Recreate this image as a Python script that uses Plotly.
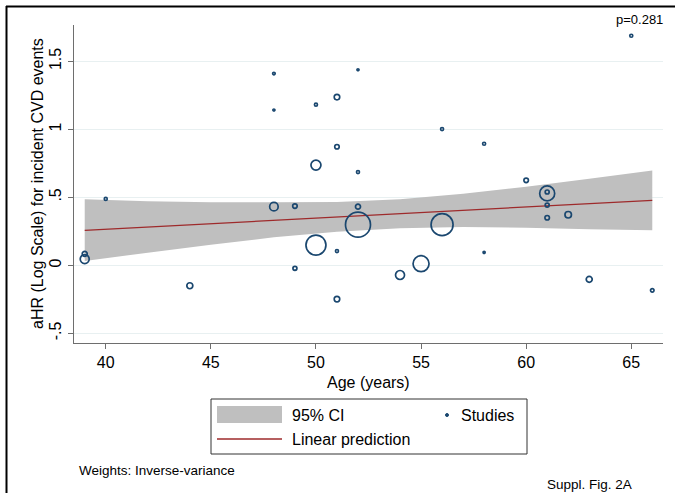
import plotly.graph_objects as go

# Study-level estimates: mean age vs. adjusted HR (log scale), marker size ~ inverse-variance weight
age = [39, 39, 40, 44, 48, 48, 48, 49, 49, 50, 50, 50, 51, 51, 51, 51, 52, 52, 52, 52,
       54, 55, 56, 56, 58, 58, 60, 61, 61, 61, 61, 62, 63, 65, 66]
log_hr = [0.085, 0.046, 0.488, -0.150, 1.410, 1.142, 0.431, 0.436, -0.022, 1.181, 0.737,
          0.149, 1.237, 0.872, 0.105, -0.248, 1.438, 0.686, 0.431, 0.299, -0.071, 0.012,
          1.002, 0.299, 0.894, 0.095, 0.625, 0.529, 0.539, 0.443, 0.350, 0.372, -0.103,
          1.688, -0.184]
weight_size = [5, 9, 3, 6, 2.5, 2, 8.5, 4.5, 4, 3, 10, 20, 5.5, 4.5, 3, 5.5, 2, 3,
               5, 25, 9, 16, 3, 22, 3, 2, 4.5, 15, 4, 4, 4.5, 6.5, 6, 3, 3.5]

# Meta-regression fit and its 95% confidence band
fit_age = [39, 66]
fit_pred = [0.257, 0.478]
band_age = [39, 42, 45, 48, 51, 54, 57, 60, 63, 66]
band_upper = [0.486, 0.471, 0.463, 0.463, 0.465, 0.486, 0.526, 0.578, 0.637, 0.698]
band_lower = [0.032, 0.093, 0.152, 0.206, 0.247, 0.273, 0.282, 0.276, 0.266, 0.258]

x_ticks = [40, 45, 50, 55, 60, 65]
y_ticks = [-0.5, 0, 0.5, 1, 1.5]
y_tick_text = ["-.5", "0", ".5", "1", "1.5"]

NAVY = "#1a476f"
MAROON = "#9e2a2b"
BAND = "#bfbfbf"
FONT = "Liberation Sans, Arial, Helvetica, sans-serif"

W, H = 675, 493
L, R, T, B = 74, 12, 25, 150


def px_x(px):
    return (px - L) / (W - L - R)


def px_y(py):
    return (H - B - py) / (H - T - B)


fig = go.Figure()

fig.add_trace(go.Scatter(
    x=band_age + band_age[::-1],
    y=band_upper + band_lower[::-1],
    fill="toself", fillcolor=BAND, mode="none",
    name="95% CI", hoverinfo="skip",
))
fig.add_trace(go.Scatter(
    x=fit_age, y=fit_pred, mode="lines",
    line=dict(color=MAROON, width=1.3), name="Linear prediction",
))
fig.add_trace(go.Scatter(
    x=age, y=log_hr, mode="markers", name="Studies",
    marker=dict(symbol="circle-open", size=weight_size, opacity=1,
                line=dict(color=NAVY, width=1.7), color=NAVY),
))

fig.update_layout(
    width=W, height=H, autosize=False,
    margin=dict(l=L, r=R, t=T, b=B),
    paper_bgcolor="white", plot_bgcolor="white",
    showlegend=False,
    font=dict(family=FONT, color="#000000", size=16),
    xaxis=dict(
        range=[38.49, 66.51], tickvals=x_ticks,
        showgrid=False, zeroline=False,
        showline=True, linecolor="#6e6e6e", linewidth=1.3,
        ticks="outside", ticklen=5, tickcolor="#6e6e6e", tickwidth=1.2,
        tickfont=dict(size=16), fixedrange=True,
    ),
    yaxis=dict(
        range=[-0.571, 1.767], tickvals=y_ticks, ticktext=y_tick_text,
        tickangle=-90,
        showgrid=True, gridcolor="#e8f0f1", gridwidth=1.2, zeroline=False,
        showline=True, linecolor="#6e6e6e", linewidth=1.3,
        ticks="outside", ticklen=5, tickcolor="#6e6e6e", tickwidth=1.2,
        tickfont=dict(size=16), fixedrange=True,
    ),
)

annotations = [
    dict(text="Age (years)", x=px_x(368), y=px_y(382), xanchor="center", yanchor="middle",
         font=dict(size=16)),
    dict(text="aHR (Log Scale) for incident CVD events", x=px_x(37), y=px_y(184),
         textangle=-90, xanchor="center", yanchor="middle", font=dict(size=16)),
    dict(text="p=0.281", x=px_x(665), y=px_y(19), xanchor="right", yanchor="middle",
         font=dict(size=13)),
    dict(text="Weights: Inverse-variance", x=px_x(77), y=px_y(470), xanchor="left",
         yanchor="middle", font=dict(size=13.5)),
    dict(text="Suppl. Fig. 2A", x=px_x(545), y=px_y(484), xanchor="left", yanchor="middle",
         font=dict(size=13.5)),
    # legend labels
    dict(text="95% CI", x=px_x(290), y=px_y(415), xanchor="left", yanchor="middle",
         font=dict(size=16)),
    dict(text="Linear prediction", x=px_x(290), y=px_y(439), xanchor="left", yanchor="middle",
         font=dict(size=16)),
    dict(text="Studies", x=px_x(459), y=px_y(415), xanchor="left", yanchor="middle",
         font=dict(size=16)),
]
for a in annotations:
    a.update(xref="paper", yref="paper", showarrow=False)
fig.update_layout(annotations=annotations)

shapes = [
    # outer frame (top and left edges)
    dict(type="line", x0=px_x(6), x1=px_x(675), y0=px_y(6.5), y1=px_y(6.5),
         line=dict(color="black", width=2)),
    dict(type="line", x0=px_x(6.5), x1=px_x(6.5), y0=px_y(6), y1=px_y(493),
         line=dict(color="black", width=2)),
    # legend box
    dict(type="rect", x0=px_x(211), x1=px_x(527), y0=px_y(399), y1=px_y(454),
         line=dict(color="#333333", width=1), fillcolor="white"),
    dict(type="rect", x0=px_x(217), x1=px_x(282), y0=px_y(406), y1=px_y(423),
         line=dict(width=0), fillcolor=BAND),
    dict(type="line", x0=px_x(217), x1=px_x(282), y0=px_y(439), y1=px_y(439),
         line=dict(color=MAROON, width=1.3)),
    dict(type="circle", x0=px_x(445.5), x1=px_x(448.5), y0=px_y(413.5), y1=px_y(416.5),
         line=dict(color=NAVY, width=1), fillcolor=NAVY),
]
for s in shapes:
    s.update(xref="paper", yref="paper")
fig.update_layout(shapes=shapes)

fig.write_html("out.html")
